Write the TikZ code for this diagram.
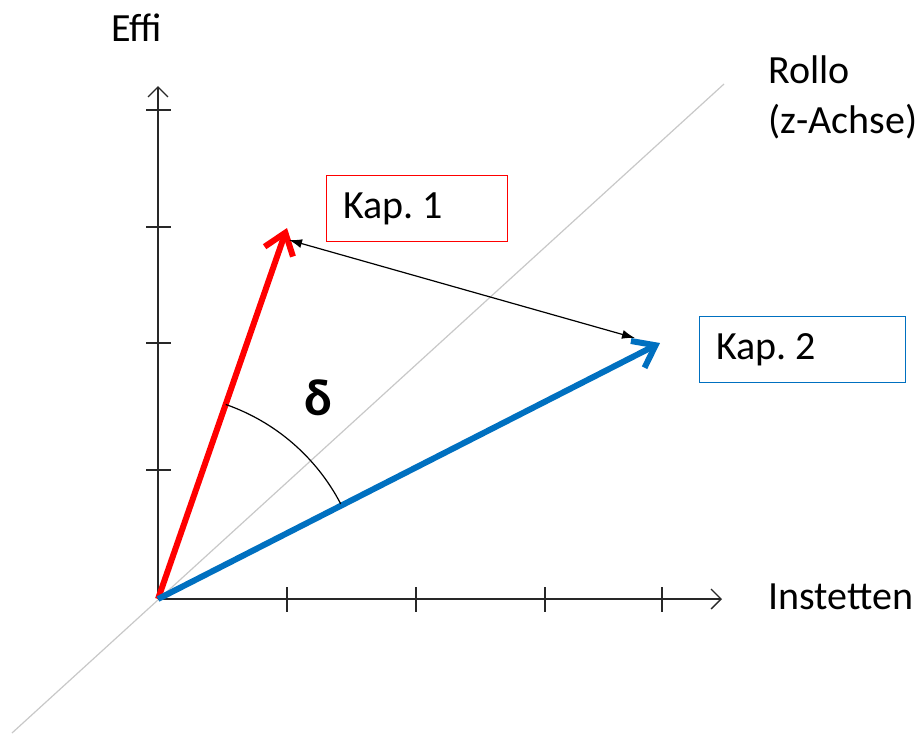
\documentclass[tikz,border=0pt]{standalone}
\usepackage{fontspec}
\setmainfont{Carlito}
\usetikzlibrary{arrows.meta,calc}
\definecolor{kblue}{RGB}{0,112,192}
\definecolor{kred}{RGB}{255,0,0}
\definecolor{lgray}{RGB}{200,200,200}
\definecolor{axcol}{RGB}{40,40,40}
\frenchspacing
\begin{document}
\begin{tikzpicture}[x=1pt,y=-1pt,
  lbl/.style={font=\fontsize{40}{48}\selectfont, inner sep=0pt},
  axisline/.style={draw=axcol, line width=1.3pt, -{Straight Barb[length=10pt,width=20pt,line width=1.3pt]}},
  tickmark/.style={draw=axcol, line width=1.3pt},
  kbox/.style={draw, line width=1.3pt, minimum height=66pt, anchor=north west,
     inner xsep=17pt, align=left, font=\fontsize{40}{48}\selectfont},
  vec/.style={line width=6pt, -{Straight Barb[length=20pt,width=30pt,line width=6pt]}},
  dist/.style={line width=1.2pt, {Latex[length=13pt,width=9pt]}-{Latex[length=13pt,width=9pt]}}
]
\useasboundingbox (0,0) rectangle (923,734);
% diagonal (z-axis)
\coordinate (D1) at (12,733);
\coordinate (D2) at (724,84);
\draw[lgray, line width=1.2pt] (D1) -- (D2);
% axes
\coordinate (O) at (158,599);
\coordinate (Ytop) at (158,86);
\coordinate (Xend) at (722,599);
\draw[axisline] (O) -- (Ytop);
\draw[axisline] (O) -- (Xend);
\foreach \ty in {110,227,343,470} \draw[tickmark] (146,\ty) -- (171,\ty);
\foreach \tx in {287,416,545,662} \draw[tickmark] (\tx,587) -- (\tx,612);
% labels
\node[lbl] (effi) at (137,28) {Effi};
\node[lbl, anchor=west] (rollo) at (768,70) {Rollo};
\node[lbl, anchor=west] (zachse) at (768,122) {(z-Achse)};
\node[lbl, anchor=west] (inst) at (768,597) {Instetten};
% boxes
\node[kbox, draw=kred, text width=147pt] (k1) at (326,175) {Kap.\hspace{0.2em}1};
\node[kbox, draw=kblue, text width=172pt] (k2) at (699,316) {Kap.\hspace{0.2em}2};
% vectors
\coordinate (A) at (287,228);
\coordinate (B) at (660,343);
\draw[vec, kred] (O) -- (A);
\draw[vec, kblue] (O) -- (B);
% distance arrow
\coordinate (P) at (289,240);
\coordinate (Q) at (635,338);
\draw[dist] (P) -- (Q);
% angle arc
\draw[line width=1.2pt] ($(O)+(-70.8:206)$) arc[start angle=-70.8, end angle=-27.5, radius=206];
\node[font=\bfseries\fontsize{52}{60}\selectfont, inner sep=0pt] (delta) at (318,398) {δ};
\end{tikzpicture}
\end{document}
